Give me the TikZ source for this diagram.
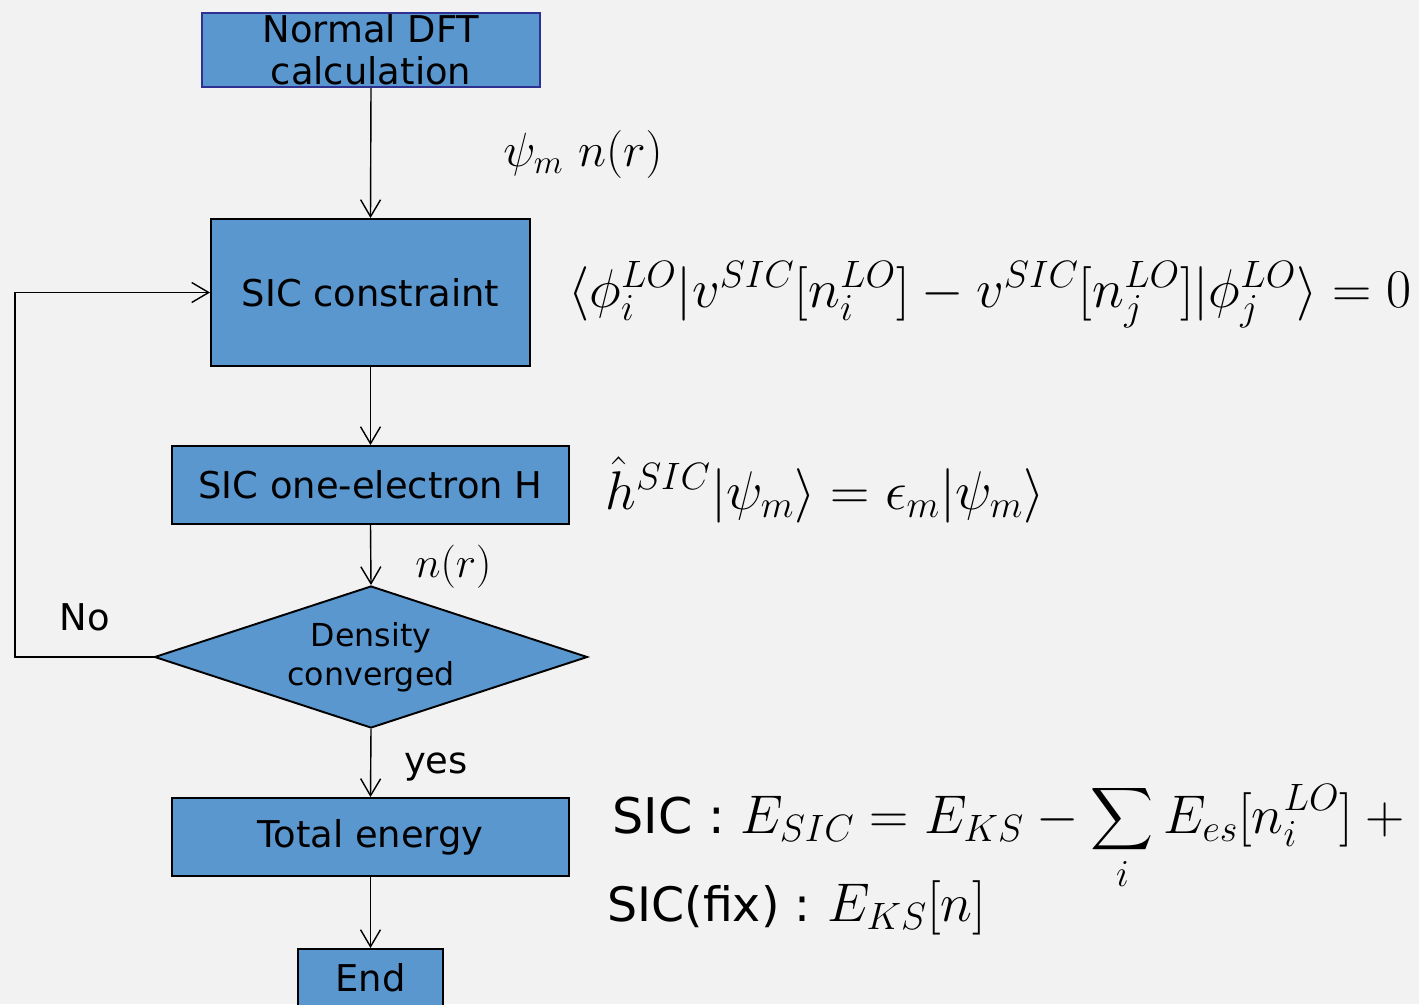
\RequirePackage{fix-cm}
\documentclass[tikz,border=0pt]{standalone}
\usepackage{amsmath}
\usepackage[no-math]{fontspec}
\newfontfamily\dejavu{DejaVu Sans}
\usetikzlibrary{arrows.meta,shapes.geometric}
\definecolor{boxblue}{RGB}{91,151,207}
\definecolor{bggray}{RGB}{242,242,242}
\definecolor{dftedge}{RGB}{46,49,146}
\newcommand{\bigmath}[1]{{\fontsize{31}{36}\selectfont$\displaystyle #1$}}

\begin{document}
\begin{tikzpicture}[
      x=0.02cm, y=-0.02cm,
      font=\dejavu\fontsize{21}{24}\selectfont,
      blk/.style={draw, fill=boxblue, line width=1.1pt, align=center, inner sep=0pt},
      dec/.style={draw, diamond, fill=boxblue, line width=1.1pt, align=center,
        inner sep=0pt, aspect=3.05, minimum width=8.66cm, minimum height=2.84cm,
        font=\dejavu\fontsize{18}{22}\selectfont},
      arr/.style={-{Straight Barb[length=3.4mm,width=4mm]}, line width=0.8pt},
      eq/.style={anchor=base west, inner sep=0pt},
      lbl/.style={inner sep=0pt},
    ]
    \fill[bggray] (0,0) rectangle (1419,1004);
    \clip (0,0) rectangle (1419,1004);
    % --- the loop ---
    \node[blk, draw=dftedge, minimum width=6.76cm, minimum height=1.48cm, inner ysep=-6pt]
      (dft) at (371,50) {Normal DFT\\calculation};
    \node[blk, minimum width=6.38cm, minimum height=2.94cm] (sic) at (370.5,292.5) {SIC constraint};
    \node[blk, minimum width=7.94cm, minimum height=1.56cm] (one) at (370.5,485) {SIC one-electron H};
    \node[dec] (dia) at (371,657) {Density\\converged};
    \node[blk, minimum width=7.94cm, minimum height=1.56cm] (tot) at (370.5,837) {Total energy};
    \node[blk, minimum width=2.9cm, minimum height=1.16cm] (end) at (370.5,978) {End};
    \draw[arr] (dft.south) -- (sic.north);
    \draw[arr] (sic.south) -- (one.north);
    \draw[arr] (one.south) -- (dia.north);
    \draw[arr] (dia.south) -- (tot.north);
    \draw[arr] (tot.south) -- (end.north);
    \coordinate (lft) at (15,657);
    \draw[arr] (dia.west) -- (lft) |- (sic.west);
    \node[lbl] (no) at (85,617) {No};
    \node[lbl] (yes) at (436,767) {yes};
    % --- equations ---
    \node[eq, font=\fontsize{27.3}{32}\selectfont] (psi) at (503,166) {$\psi_m~n(r)$};
    \node[eq, font=\fontsize{24.6}{29}\selectfont] (dens) at (415,577) {$n(r)$};
    \node[eq, font=\fontsize{31}{36}\selectfont] (cons) at (568,307)
      {$\langle\phi_i^{LO}|v^{SIC}[n_i^{LO}]-v^{SIC}[n_j^{LO}]|\phi_j^{LO}\rangle=0$};
    \node[eq, font=\fontsize{31}{36}\selectfont] (ham) at (605,509)
      {$\hat{h}^{SIC}|\psi_m\rangle=\epsilon_m|\psi_m\rangle$};
    \node[eq, font=\dejavu\fontsize{28}{33}\selectfont] (esic) at (612,833)
      {SIC : \bigmath{E_{SIC}=E_{KS}-\sum_i E_{es}[n_i^{LO}]+{}}};
    \node[eq, font=\dejavu\fontsize{27}{33}\selectfont] (efix) at (607,921)
      {SIC(fix) :\hspace{-2pt} \bigmath{E_{KS}[n]}};
  \end{tikzpicture}
\end{document}
